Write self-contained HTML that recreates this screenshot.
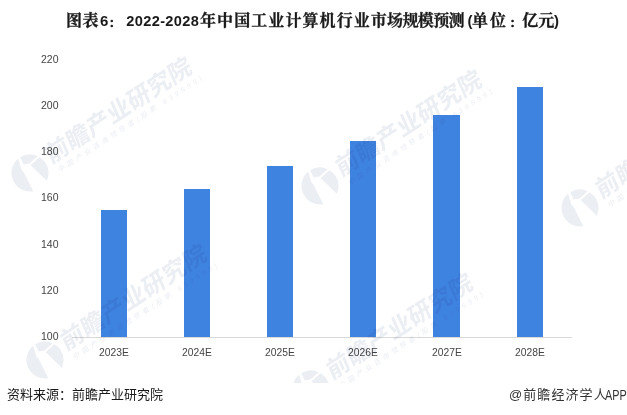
<!DOCTYPE html>
<html lang="zh-CN">
<head>
<meta charset="utf-8">
<title>图表6：2022-2028年中国工业计算机行业市场规模预测(单位：亿元)</title>
<style>
html,body{margin:0;padding:0;background:#fff;}
body{width:627px;height:415px;position:relative;overflow:hidden;font-family:"Liberation Sans","Noto Sans CJK SC",sans-serif;}
.abs{position:absolute;white-space:nowrap;}
#title{left:0;top:9.3px;height:24px;width:627px;font-family:"Liberation Sans","Noto Serif CJK SC",serif;font-size:16px;font-weight:bold;color:#1a1a1a;line-height:24px;-webkit-text-stroke:0.3px #1a1a1a;}
#title span{position:absolute;top:0;white-space:nowrap;}
.yl{left:30px;width:28.5px;text-align:right;font-size:10.5px;color:#444;line-height:12px;}
.xl{width:60px;text-align:center;font-size:10.3px;color:#444;line-height:12px;top:346.9px;}
.bar{position:absolute;background:#3f83e1;width:26px;}
#axis{position:absolute;left:72px;top:336.8px;width:500px;height:1px;background:#d9d9d9;}
#src{left:7px;top:386px;font-size:13px;color:#1a1a1a;line-height:18px;}
#app{left:508.9px;top:386px;font-size:13px;color:#333;line-height:18px;letter-spacing:1.1px;}
#app2{left:604.6px;top:385.6px;font-size:14px;color:#333;line-height:18px;transform:scaleX(0.775);transform-origin:0 50%;}
.wm{position:absolute;width:0;height:0;mix-blend-mode:multiply;color:#ebeef3;}
.wm svg{position:absolute;left:-19px;top:-19px;width:38px;height:38px;overflow:visible;}
.wm .t{position:absolute;left:22px;top:-6px;width:0;height:0;transform-origin:0 0;transform:matrix(0.839,-0.545,0.407,0.914,0,0);white-space:nowrap;}
.wm .big{position:absolute;left:0;top:-23px;font-size:24px;font-weight:bold;line-height:24px;letter-spacing:0.3px;}
.wm .small{position:absolute;left:5px;top:2px;font-size:7px;line-height:9px;letter-spacing:3.3px;}
#foot{position:absolute;left:0;top:383px;width:627px;height:32px;background:#fff;}
</style>
</head>
<body>
<div id="title" class="abs"><span style="left:66px;letter-spacing:0.6px">图表</span><span style="left:100px;font-size:15px;-webkit-text-stroke:0">6</span><span style="left:108.8px;top:1.4px;font-size:11.5px;-webkit-text-stroke:0.5px #1a1a1a">：</span><span style="left:126.3px;font-size:14.6px;letter-spacing:0.35px;-webkit-text-stroke:0">2022-2028</span><span style="left:200px;letter-spacing:1.08px">年中国工业计算机行业市</span><span style="left:387px;letter-spacing:-0.6px">场规模预测</span><span style="left:467.5px;font-size:15px;-webkit-text-stroke:0">(</span><span style="left:472px;letter-spacing:2px">单位</span><span style="left:509.6px;top:1.4px;font-size:11.5px;-webkit-text-stroke:0.5px #1a1a1a">：</span><span style="left:522.3px">亿元</span><span style="left:554px;font-size:15px;-webkit-text-stroke:0">)</span></div>

<div class="abs yl" style="top:53px">220</div>
<div class="abs yl" style="top:99.1px">200</div>
<div class="abs yl" style="top:145.3px">180</div>
<div class="abs yl" style="top:191.4px">160</div>
<div class="abs yl" style="top:237.5px">140</div>
<div class="abs yl" style="top:283.7px">120</div>
<div class="abs yl" style="top:329.8px">100</div>

<div id="axis"></div>
<div class="bar" style="left:101px;width:26px;top:210px;height:126.8px"></div>
<div class="bar" style="left:184.2px;width:25.6px;top:189px;height:147.8px"></div>
<div class="bar" style="left:267px;width:25.8px;top:166px;height:170.8px"></div>
<div class="bar" style="left:350.3px;width:25.7px;top:141px;height:195.8px"></div>
<div class="bar" style="left:433.2px;width:26.7px;top:115px;height:221.8px"></div>
<div class="bar" style="left:517px;width:26px;top:87px;height:249.8px"></div>

<div class="abs xl" style="left:84px">2023E</div>
<div class="abs xl" style="left:167px">2024E</div>
<div class="abs xl" style="left:250px">2025E</div>
<div class="abs xl" style="left:333px">2026E</div>
<div class="abs xl" style="left:417px">2027E</div>
<div class="abs xl" style="left:500px">2028E</div>

<!-- watermarks -->
<div class="wm" style="left:30.2px;top:172.5px"><svg viewBox="-19 -19 38 38"><path fill="#ebeef3" d="M-11.9,-14.2 A18.5,18.5 0 0 0 3.3,18.2 L-6.3,-1 L-8.5,-3.5 Z"/><path fill="#ebeef3" d="M-9.8,-15.7 A18.5,18.5 0 0 1 7.7,-16.8 L-0.6,-9.4 L-6.3,-8.6 Z"/><path fill="#ebeef3" d="M0.6,-7.7 L9.6,-15.8 A18.5,18.5 0 0 1 16.8,7.8 Z"/></svg><div class="t"><div class="big">前瞻产业研究院</div><div class="small">中国产业咨询领导者(股票 839599)</div></div></div>
<div class="wm" style="left:320.2px;top:185.6px"><svg viewBox="-19 -19 38 38"><path fill="#ebeef3" d="M-11.9,-14.2 A18.5,18.5 0 0 0 3.3,18.2 L-6.3,-1 L-8.5,-3.5 Z"/><path fill="#ebeef3" d="M-9.8,-15.7 A18.5,18.5 0 0 1 7.7,-16.8 L-0.6,-9.4 L-6.3,-8.6 Z"/><path fill="#ebeef3" d="M0.6,-7.7 L9.6,-15.8 A18.5,18.5 0 0 1 16.8,7.8 Z"/></svg><div class="t"><div class="big">前瞻产业研究院</div><div class="small">中国产业咨询领导者(股票 839599)</div></div></div>
<div class="wm" style="left:580.1px;top:208.4px"><svg viewBox="-19 -19 38 38"><path fill="#ebeef3" d="M-11.9,-14.2 A18.5,18.5 0 0 0 3.3,18.2 L-6.3,-1 L-8.5,-3.5 Z"/><path fill="#ebeef3" d="M-9.8,-15.7 A18.5,18.5 0 0 1 7.7,-16.8 L-0.6,-9.4 L-6.3,-8.6 Z"/><path fill="#ebeef3" d="M0.6,-7.7 L9.6,-15.8 A18.5,18.5 0 0 1 16.8,7.8 Z"/></svg><div class="t"><div class="big">前瞻产业研究院</div><div class="small">中国产业咨询领导者(股票 839599)</div></div></div>
<div class="wm" style="left:45.1px;top:359.8px"><svg viewBox="-19 -19 38 38"><path fill="#ebeef3" d="M-11.9,-14.2 A18.5,18.5 0 0 0 3.3,18.2 L-6.3,-1 L-8.5,-3.5 Z"/><path fill="#ebeef3" d="M-9.8,-15.7 A18.5,18.5 0 0 1 7.7,-16.8 L-0.6,-9.4 L-6.3,-8.6 Z"/><path fill="#ebeef3" d="M0.6,-7.7 L9.6,-15.8 A18.5,18.5 0 0 1 16.8,7.8 Z"/></svg><div class="t"><div class="big">前瞻产业研究院</div><div class="small">中国产业咨询领导者(股票 839599)</div></div></div>
<div class="wm" style="left:311px;top:388.5px"><svg viewBox="-19 -19 38 38"><path fill="#ebeef3" d="M-11.9,-14.2 A18.5,18.5 0 0 0 3.3,18.2 L-6.3,-1 L-8.5,-3.5 Z"/><path fill="#ebeef3" d="M-9.8,-15.7 A18.5,18.5 0 0 1 7.7,-16.8 L-0.6,-9.4 L-6.3,-8.6 Z"/><path fill="#ebeef3" d="M0.6,-7.7 L9.6,-15.8 A18.5,18.5 0 0 1 16.8,7.8 Z"/></svg><div class="t"><div class="big">前瞻产业研究院</div><div class="small">中国产业咨询领导者(股票 839599)</div></div></div>
<div id="foot"></div>
<div id="src" class="abs">资料来源：前瞻产业研究院</div>
<div id="app" class="abs">@前瞻经济学人</div><div id="app2" class="abs">APP</div>
</body>
</html>
